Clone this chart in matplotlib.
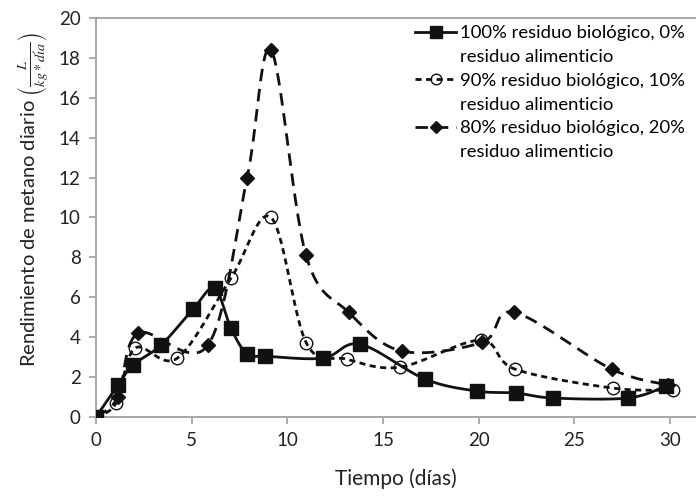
import numpy as np
import matplotlib.pyplot as plt
from matplotlib.lines import Line2D

# 100% residuo biologico, 0% residuo alimenticio
x_a = [0, 1.15, 1.93, 3.4, 5.07, 6.2, 7.05, 7.9, 8.85, 11.87, 13.8, 17.2, 19.9, 21.95, 23.9, 27.8, 29.8]
y_a = [0, 1.6, 2.6, 3.6, 5.4, 6.45, 4.45, 3.15, 3.05, 2.95, 3.65, 1.9, 1.3, 1.2, 0.95, 0.95, 1.55]

# 90% residuo biologico, 10% residuo alimenticio
x_b = [0, 1.05, 2.04, 4.25, 7.05, 9.15, 11.0, 13.1, 15.9, 20.1, 21.9, 27.0, 30.15]
y_b = [0, 0.7, 3.45, 2.95, 6.95, 10.0, 3.7, 2.9, 2.5, 3.85, 2.4, 1.45, 1.35]

# 80% residuo biologico, 20% residuo alimenticio
x_c = [0, 1.15, 2.2, 5.85, 7.9, 9.15, 10.98, 13.2, 16.0, 20.2, 21.85, 26.95, 29.9]
y_c = [0, 1.0, 4.2, 3.6, 12.0, 18.4, 8.1, 5.25, 3.3, 3.75, 5.25, 2.4, 1.6]

labels = [("100% residuo biológico, 0%", "residuo alimenticio"),
          ("90% residuo biológico, 10%", "residuo alimenticio"),
          ("80% residuo biológico, 20%", "residuo alimenticio")]


def smooth(xs, ys, n=30):
    # curva suavizada tipo Excel (Catmull-Rom con Bezier)
    p = np.column_stack([xs, ys]).astype(float)
    p = np.vstack([p[0], p, p[-1]])
    out = []
    t = np.linspace(0, 1, n)[:, None]
    for i in range(1, len(p) - 2):
        p0, p1, p2, p3 = p[i - 1], p[i], p[i + 1], p[i + 2]
        c1 = p1 + (p2 - p0) / 6
        c2 = p2 - (p3 - p1) / 6
        seg = ((1 - t) ** 3 * p1 + 3 * (1 - t) ** 2 * t * c1
               + 3 * (1 - t) * t ** 2 * c2 + t ** 3 * p2)
        out.append(seg if i == 1 else seg[1:])
    s = np.vstack(out)
    return s[:, 0], s[:, 1]


plt.rcParams['font.family'] = ['Lato', 'DejaVu Sans']
plt.rcParams['mathtext.fontset'] = 'stix'

fig = plt.figure(figsize=(6.96, 4.96), dpi=100)
ax = fig.add_axes([96 / 696, 79 / 496, 600 / 696, 399 / 496])

styles = [
    dict(ls='-', dashes=None, marker='s', ms=10, mfc='#111111'),
    dict(ls='--', dashes=(2.2, 1.6), marker='o', ms=9, mfc='none'),
    dict(ls='--', dashes=(4.5, 2.8), marker='D', ms=7, mfc='#111111'),
]
series = [(x_a, y_a), (x_b, y_b), (x_c, y_c)]
handles = []
texts = []
blank = Line2D([], [], color='none')
for (xs, ys), st, lab in zip(series, styles, labels):
    sx, sy = smooth(xs, ys)
    line, = ax.plot(sx, sy, color='#111111', lw=2.0, ls=st['ls'], zorder=2)
    if st['dashes']:
        line.set_dashes(st['dashes'])
    ax.plot(xs, ys, ls='none', marker=st['marker'], ms=st['ms'],
            mfc=st['mfc'], mec='#111111', mew=1.0, zorder=3)
    h = Line2D([], [], color='#111111', lw=2.0, ls=st['ls'], marker=st['marker'],
               ms=st['ms'] * 0.85, mfc=st['mfc'], mec='#111111')
    if st['dashes']:
        h.set_dashes(st['dashes'])
    handles += [h, blank]
    texts += [lab[0], lab[1]]

ax.set_xlim(0, 600 / 19.13)
ax.set_ylim(0, 20)
ax.set_xticks(np.arange(0, 31, 5))
ax.set_yticks(np.arange(0, 21, 2))

for s in ['left', 'bottom', 'top']:
    ax.spines[s].set_color('#a0a0a0')
    ax.spines[s].set_linewidth(1.3)
ax.spines['right'].set_visible(False)
ax.tick_params(direction='out', length=5, width=1.2, color='#a0a0a0',
               labelsize=13.5, labelcolor='#222222', pad=6)

ax.set_xlabel('Tiempo (días)', fontsize=15, color='#222222')
ax.xaxis.set_label_coords(0.5, -0.13)
ax.set_ylabel(r'Rendimiento de metano diario $\left(\frac{L}{kg*d\acute{\imath}a}\right)$',
              fontsize=14.5, color='#222222')
ax.yaxis.set_label_coords(-0.075, 0.545)

ax.legend(handles, texts, loc='upper left', bbox_to_anchor=(0.52, 1.0),
          frameon=False, fontsize=13.3, handlelength=2.2, handletextpad=0.2,
          labelspacing=0.42, borderaxespad=0.0)

fig.savefig('out.png', dpi=100)
